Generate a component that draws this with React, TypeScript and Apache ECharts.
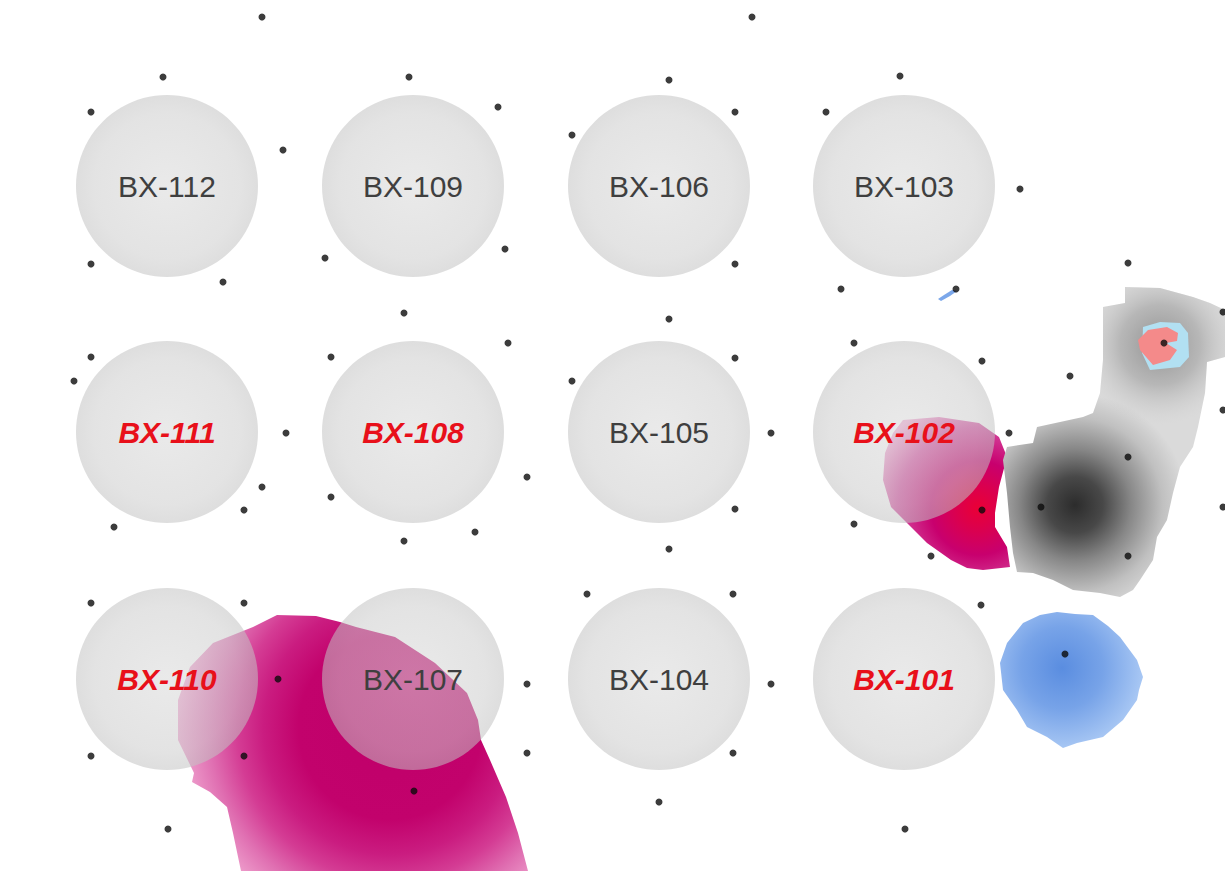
import React, { useEffect, useRef } from "react";
import * as echarts from "echarts";

// Well pads laid out on the site grid (site units; y grows downwards)
const wellNames = [
  "BX-112", "BX-109", "BX-106", "BX-103",
  "BX-111", "BX-108", "BX-105", "BX-102",
  "BX-110", "BX-107", "BX-104", "BX-101",
];
const wellX = [167, 413, 659, 904, 167, 413, 659, 904, 167, 413, 659, 904];
const wellY = [186, 186, 186, 186, 432, 432, 432, 432, 679, 679, 679, 679];
const flaggedWells = ["BX-111", "BX-108", "BX-102", "BX-110", "BX-101"];

// Monitoring sample locations
const samplePoints: [number, number][] = [
  [262, 17], [752, 17],
  [163, 77], [409, 77], [669, 80], [900, 76],
  [91, 112], [498, 107], [735, 112], [826, 112],
  [283, 150], [572, 135], [1020, 189],
  [91, 264], [223, 282], [325, 258], [505, 249], [735, 264], [841, 289], [956, 289], [1128, 263],
  [404, 313], [669, 319], [1223, 312],
  [91, 357], [74, 381], [331, 357], [508, 343], [572, 381], [735, 358], [854, 343], [982, 361], [1070, 376], [1164, 343],
  [286, 433], [771, 433], [1009, 433], [1223, 410],
  [262, 487], [244, 510], [114, 527], [331, 497], [475, 532], [404, 541], [527, 477],
  [735, 509], [854, 524], [982, 510], [1041, 507], [1128, 457], [1223, 507],
  [669, 549], [931, 556], [1128, 556],
  [91, 603], [244, 603], [587, 594], [733, 594], [981, 605],
  [278, 679], [527, 684], [771, 684], [1065, 654],
  [91, 756], [244, 756], [527, 753], [733, 753],
  [414, 791], [659, 802], [168, 829], [905, 829],
];

// Plume outlines
const magentaPlumeSouth: [number, number][] = [
  [178, 700], [190, 667], [213, 643], [253, 627], [277, 615], [316, 616], [340, 622], [356, 627],
  [395, 637], [435, 663], [467, 693], [478, 720], [481, 740], [490, 760], [506, 797], [518, 833],
  [528, 871], [241, 871], [233, 833], [227, 807], [210, 792], [192, 782], [194, 773], [178, 740],
];
const magentaPlumeEast: [number, number][] = [
  [893, 433], [903, 420], [939, 417], [979, 423], [999, 437], [1007, 457], [999, 487], [995, 513],
  [995, 527], [1007, 547], [1010, 567], [983, 570], [967, 568], [951, 560], [927, 543], [911, 527],
  [891, 507], [883, 480], [885, 453],
];
const greyPlume: [number, number][] = [
  [1125, 287], [1160, 288], [1193, 297], [1210, 303], [1225, 310], [1225, 357], [1207, 362],
  [1205, 393], [1198, 427], [1193, 447], [1180, 467], [1173, 493], [1167, 520], [1157, 537],
  [1153, 560], [1140, 580], [1133, 590], [1120, 597], [1100, 593], [1073, 590], [1053, 580],
  [1033, 573], [1017, 572], [1013, 553], [1010, 527], [1007, 493], [1003, 460], [1007, 447],
  [1033, 443], [1037, 427], [1083, 417], [1093, 413], [1100, 393], [1103, 360], [1103, 307],
  [1125, 303],
];
const bluePlume: [number, number][] = [
  [1007, 643], [1023, 623], [1040, 615], [1057, 612], [1075, 614], [1093, 615], [1108, 626],
  [1120, 637], [1137, 660], [1143, 677], [1139, 690], [1137, 700], [1123, 720], [1103, 737],
  [1077, 743], [1063, 748], [1047, 737], [1027, 727], [1017, 710], [1003, 690], [1000, 663],
];
const blueTrace: [number, number][] = [
  [938, 299], [944, 295], [952, 290], [957, 291], [950, 296], [941, 301],
];
const hotspotHalo: [number, number][] = [
  [1143, 327], [1160, 322], [1180, 323], [1188, 333], [1189, 357], [1180, 367], [1150, 370], [1142, 353],
];
const hotspotCore: [number, number][] = [
  [1148, 330], [1167, 327], [1178, 333], [1177, 341], [1166, 343], [1177, 350], [1170, 360],
  [1153, 365], [1140, 350], [1138, 340],
];

type Stop = { offset: number; color: string };

function radial(api: any, center: [number, number], r: number, stops: Stop[]) {
  const c = api.coord(center);
  const rr = api.size([r, r])[0];
  return new echarts.graphic.RadialGradient(c[0], c[1], rr, stops, true);
}

function plume(
  name: string,
  outline: [number, number][],
  layers: (api: any) => any[],
  z: number
) {
  return {
    name,
    type: "custom",
    coordinateSystem: "cartesian2d",
    z,
    silent: true,
    clip: false,
    data: [outline[0]],
    renderItem: (_params: any, api: any) => {
      const pts = outline.map((p) => api.coord(p));
      return {
        type: "group",
        children: layers(api).map((fill) => ({
          type: "polygon",
          shape: { points: pts },
          style: { fill },
        })),
      };
    },
  };
}

export default function App() {
  const ref = useRef<HTMLDivElement>(null);

  useEffect(() => {
    if (!ref.current) return;
    const chart = echarts.init(ref.current, null, { renderer: "svg" });

    const font = "'Liberation Sans', Arial, sans-serif";

    const option: any = {
      animation: false,
      backgroundColor: "#ffffff",
      grid: { left: 0, right: 0, top: 0, bottom: 0 },
      xAxis: { type: "value", min: 0, max: 1225, show: false },
      yAxis: { type: "value", min: 0, max: 871, inverse: true, show: false },
      series: [
        plume("magenta-south", magentaPlumeSouth, (api) => [
          radial(api, [390, 728], 218, [
            { offset: 0, color: "#c0006a" },
            { offset: 0.42, color: "#c2026c" },
            { offset: 0.58, color: "#ca1c80" },
            { offset: 0.7, color: "#d43c94" },
            { offset: 0.83, color: "#e070b2" },
            { offset: 1, color: "#f2acd4" },
          ]),
        ], 1),
        plume("magenta-east", magentaPlumeEast, (api) => [
          radial(api, [978, 508], 112, [
            { offset: 0, color: "#ea0036" },
            { offset: 0.18, color: "#dc004c" },
            { offset: 0.42, color: "#c8006e" },
            { offset: 0.72, color: "#d4449c" },
            { offset: 1, color: "#f0a8d2" },
          ]),
        ], 1),
        plume("grey", greyPlume, (api) => [
          radial(api, [1075, 505], 112, [
            { offset: 0, color: "#2c2c2c" },
            { offset: 0.25, color: "#484848" },
            { offset: 0.5, color: "#878787" },
            { offset: 0.78, color: "#c0c0c0" },
            { offset: 1, color: "#dadada" },
          ]),
          radial(api, [1160, 345], 80, [
            { offset: 0, color: "rgba(120,120,120,0.75)" },
            { offset: 0.5, color: "rgba(140,140,140,0.45)" },
            { offset: 1, color: "rgba(200,200,200,0)" },
          ]),
        ], 1),
        plume("blue", bluePlume, (api) => [
          radial(api, [1062, 668], 82, [
            { offset: 0, color: "#5a8de0" },
            { offset: 0.5, color: "#77a3e8" },
            { offset: 1, color: "#a9c8f4" },
          ]),
        ], 1),
        plume("blue-trace", blueTrace, () => ["#7ba7ea"], 1),
        plume("hotspot-halo", hotspotHalo, () => ["#b2e0f2"], 2),
        plume("hotspot-core", hotspotCore, () => ["#f48a8a"], 2),
        {
          name: "wells",
          type: "scatter",
          z: 3,
          silent: true,
          symbol: "circle",
          symbolSize: 182,
          itemStyle: {
            color: new echarts.graphic.RadialGradient(0.5, 0.5, 0.5, [
              { offset: 0, color: "rgba(216,216,216,0.68)" },
              { offset: 0.8, color: "rgba(204,204,204,0.68)" },
              { offset: 1, color: "rgba(194,194,194,0.68)" },
            ]),
          },
          data: wellNames.map((n, i) => ({ name: n, value: [wellX[i], wellY[i]] })),
        },
        {
          name: "well-labels",
          type: "scatter",
          z: 4,
          silent: true,
          symbol: "circle",
          symbolSize: 1,
          itemStyle: { color: "rgba(0,0,0,0)" },
          label: {
            show: true,
            position: "inside",
            formatter: "{b}",
            fontFamily: font,
            fontSize: 30,
            color: "#3f3f3f",
            opacity: 1,
          },
          data: wellNames.map((n, i) => {
            const flagged = flaggedWells.includes(n);
            return {
              name: n,
              value: [wellX[i], wellY[i]],
              label: flagged
                ? { color: "#e8101a", fontStyle: "italic", fontWeight: "bold" }
                : { color: "#3f3f3f", fontStyle: "normal", fontWeight: "normal" },
            };
          }),
        },
        {
          name: "samples",
          type: "scatter",
          z: 5,
          silent: true,
          symbol: "circle",
          symbolSize: 7,
          itemStyle: { color: "#0b0b0b" },
          data: samplePoints,
        },
      ],
    };

    chart.setOption(option);
    return () => chart.dispose();
  }, []);

  return (
    <div
      ref={ref}
      style={{ position: "absolute", left: 0, top: 0, width: 1225, height: 871, background: "#fff" }}
    />
  );
}
